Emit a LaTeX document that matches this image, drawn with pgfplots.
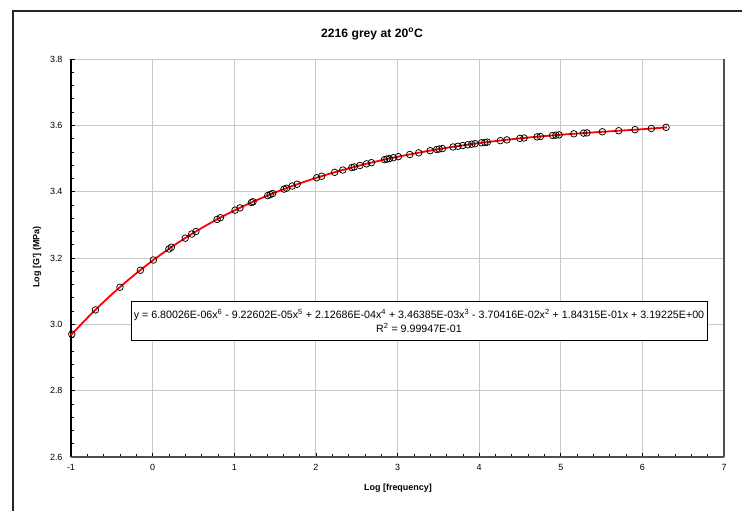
\documentclass[border=0pt]{standalone}
\usepackage{pgfplots}
\pgfplotsset{compat=1.18}
\usepackage{fontspec}
\setmainfont{Liberation Sans}
\definecolor{gridgrey}{RGB}{200,200,200}
\definecolor{axisgrey}{RGB}{80,80,80}

\begin{document}
\begin{tikzpicture}
\useasboundingbox (-71bp,-54bp) rectangle (671bp,457bp);
% chart frame
\draw[line width=1.5bp, black!85] (-58bp,-70bp) -- (-58bp,446bp) -- (690bp,446bp);
\begin{axis}[
  at={(0,0)}, anchor=south west, scale only axis,
  width=653bp, height=398bp,
  xmin=-1, xmax=7, ymin=2.6, ymax=3.8,
  xtick={-1,0,1,2,3,4,5,6,7},
  xticklabels={-1,0,1,2,3,4,5,6,7},
  ytick={2.6,2.8,3.0,3.2,3.4,3.6,3.8},
  yticklabels={2.6,2.8,3.0,3.2,3.4,3.6,3.8},
  minor x tick num=4, minor y tick num=4,
  tick pos=left, tick align=inside,
  major tick length=4bp, minor tick length=3bp,
  tick style={black, line width=0.6bp},
  grid=major, major grid style={gridgrey, line width=0.9bp},
  axis line style={draw=none},
  tick label style={font=\fontsize{9}{10}\selectfont},
  yticklabel style={xshift=-5bp},
  xticklabel style={yshift=-4bp},
  clip=false,
]
\draw[black, line width=1.2bp] (rel axis cs:0,0) -- (rel axis cs:0,1);
\draw[axisgrey, line width=2bp] (rel axis cs:0,0) -- (rel axis cs:1,0);
\draw[axisgrey, line width=1.2bp] (rel axis cs:1,0) -- (rel axis cs:1,1);
% measured points
\addplot[only marks, mark=o, mark size=3.3bp, mark options={black, line width=0.75bp}] table {
x y
-0.99 2.9703
-0.70 3.0435
-0.40 3.1118
-0.15 3.1632
0.01 3.1940
0.20 3.2273
0.23 3.2325
0.40 3.2598
0.48 3.2724
0.53 3.2799
0.79 3.3163
0.83 3.3214
1.01 3.3442
1.07 3.3511
1.21 3.3672
1.23 3.3695
1.41 3.3882
1.44 3.3913
1.47 3.3944
1.61 3.4077
1.64 3.4104
1.71 3.4169
1.77 3.4223
2.01 3.4420
2.07 3.4465
2.23 3.4584
2.33 3.4652
2.44 3.4726
2.47 3.4746
2.54 3.4790
2.62 3.4838
2.68 3.4874
2.84 3.4965
2.87 3.4981
2.90 3.4997
2.95 3.5024
3.01 3.5056
3.15 3.5120
3.26 3.5171
3.40 3.5235
3.48 3.5272
3.51 3.5285
3.55 3.5299
3.68 3.5347
3.74 3.5369
3.80 3.5391
3.86 3.5413
3.91 3.5431
3.95 3.5446
4.03 3.5473
4.07 3.5484
4.10 3.5493
4.26 3.5538
4.34 3.5561
4.50 3.5607
4.55 3.5618
4.71 3.5653
4.75 3.5662
4.90 3.5694
4.94 3.5703
4.98 3.5712
5.16 3.5744
5.28 3.5765
5.32 3.5772
5.51 3.5805
5.71 3.5837
5.91 3.5869
6.11 3.5904
6.29 3.5938
};
% polynomial trend line
\addplot[red, line width=1.8bp, smooth] coordinates {
(-1,2.9677) (-0.75,3.0318) (-0.5,3.0904) (-0.25,3.1438) (0,3.19225)
(0.25,3.2361) (0.5,3.2756) (0.75,3.3112) (1,3.3431) (1.25,3.3718)
(1.5,3.3975) (1.75,3.4206) (2,3.4413) (2.25,3.4599) (2.5,3.4766)
(2.75,3.4916) (3,3.5051) (3.5,3.5281) (4,3.5464) (4.5,3.5607)
(5,3.5716) (5.5,3.5803) (6,3.5883) (6.3,3.5940)
};
\end{axis}
\node[draw=black, fill=white, line width=0.8bp, align=center,
  minimum width=576bp, minimum height=39bp, inner sep=1bp,
  font=\fontsize{10.7}{14}\selectfont] at (348bp,136bp)
  {y = 6.80026E-06x\textsuperscript{6} - 9.22602E-05x\textsuperscript{5} + 2.12686E-04x\textsuperscript{4} + 3.46385E-03x\textsuperscript{3} - 3.70416E-02x\textsuperscript{2} + 1.84315E-01x + 3.19225E+00\\
   R\textsuperscript{2} = 9.99947E-01};
\node[font=\bfseries\fontsize{12.2}{14}\selectfont] at (301bp,423bp) {2216 grey at 20\textsuperscript{o}C};
\node[font=\bfseries\fontsize{9}{10}\selectfont] at (327bp,-31bp) {Log [frequency]};
\node[rotate=90, font=\bfseries\fontsize{9}{10}\selectfont] at (-34bp,200bp) {Log [G'] (MPa)};
\end{tikzpicture}
\end{document}
